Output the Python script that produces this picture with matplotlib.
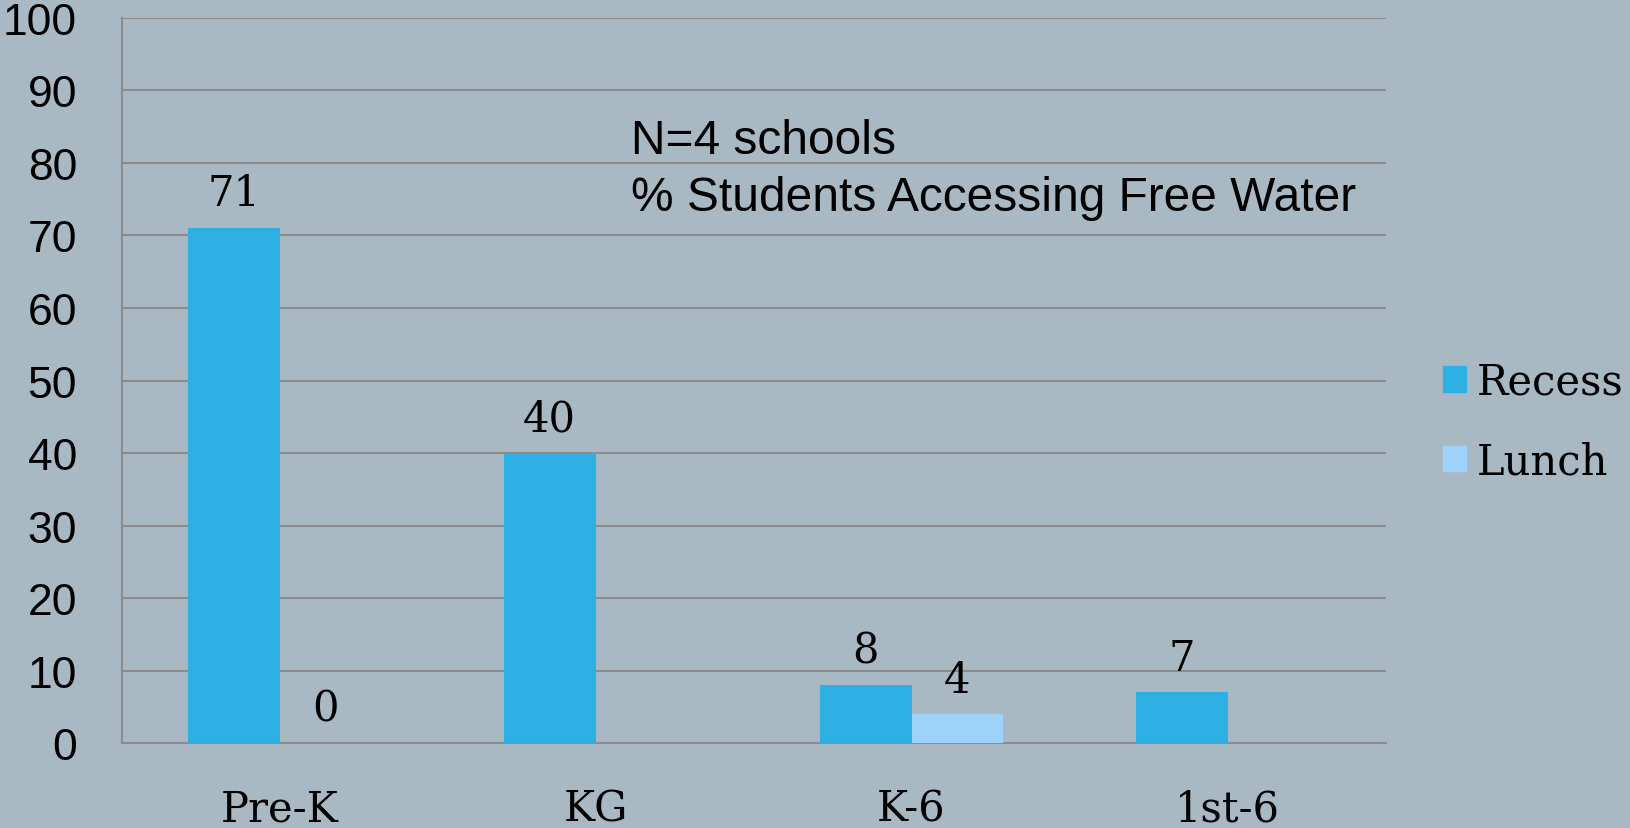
import matplotlib
matplotlib.use('Agg')
import matplotlib.pyplot as plt
import numpy as np
from matplotlib.patches import Patch

categories = ['Pre-K', 'KG', 'K-6', '1st-6']
recess = [71, 40, 8, 7]
lunch = [0, None, 4, None]
yticks = [0, 10, 20, 30, 40, 50, 60, 70, 80, 90, 100]

bg = '#a9b9c4'
c_recess = '#2fb0e4'
c_lunch = '#9dd3fb'
grid_c = '#8c8c8c'
serif = 'DejaVu Serif'
sans = 'Liberation Sans'

fig = plt.figure(figsize=(16.3, 8.29), dpi=100, facecolor=bg)
ax = fig.add_axes([0.0746, 0.1022, 0.7754, 0.8752])
ax.set_facecolor(bg)

x = np.arange(len(categories))
w = 0.29
lunch_vals = [v if v is not None else 0 for v in lunch]
ax.bar(x - w/2, recess, w, color=c_recess, zorder=3)
ax.bar(x + w/2, lunch_vals, w, color=c_lunch, zorder=3)

# value labels above the bars
for i, v in enumerate(recess):
    ax.annotate(str(v), (x[i] - w/2, v), xytext=(0, 25), textcoords='offset points',
                ha='center', va='center', fontsize=30, family=serif)
for i, v in enumerate(lunch):
    if v is None:
        continue
    ax.annotate(str(v), (x[i] + w/2, v), xytext=(0, 25), textcoords='offset points',
                ha='center', va='center', fontsize=30, family=serif)

ax.set_xlim(-0.5, 3.5)
ax.set_ylim(0, 100)
ax.set_yticks(yticks)
ax.set_yticklabels([str(t) for t in yticks], fontsize=32, family=sans)
ax.set_xticks(x)
ax.set_xticklabels(categories, fontsize=30, family=serif)
ax.tick_params(axis='y', length=0, pad=32)
ax.tick_params(axis='x', length=0, pad=32)
ax.yaxis.grid(True, color=grid_c, linewidth=1.5, zorder=0)
for s in ['top', 'right']:
    ax.spines[s].set_visible(False)
ax.spines['left'].set_color(grid_c)
ax.spines['left'].set_linewidth(1.5)
ax.spines['bottom'].set_color(grid_c)
ax.spines['bottom'].set_linewidth(1.5)

ax.text(1.112, 83.1, 'N=4 schools', fontsize=34.5, family=sans, va='center', ha='left')
ax.text(1.112, 75.2, '% Students Accessing Free Water', fontsize=34.5, family=sans, va='center', ha='left')

handles = [Patch(color=c_recess), Patch(color=c_lunch)]
fig.legend(handles, ['Recess', 'Lunch'], loc='center left', bbox_to_anchor=(0.885, 0.4906),
           frameon=False, prop={'family': serif, 'size': 30}, handlelength=0.56,
           handleheight=0.56, handletextpad=0.25, labelspacing=0.9, borderpad=0,
           borderaxespad=0)

fig.savefig('out.png', dpi=100, facecolor=bg)
